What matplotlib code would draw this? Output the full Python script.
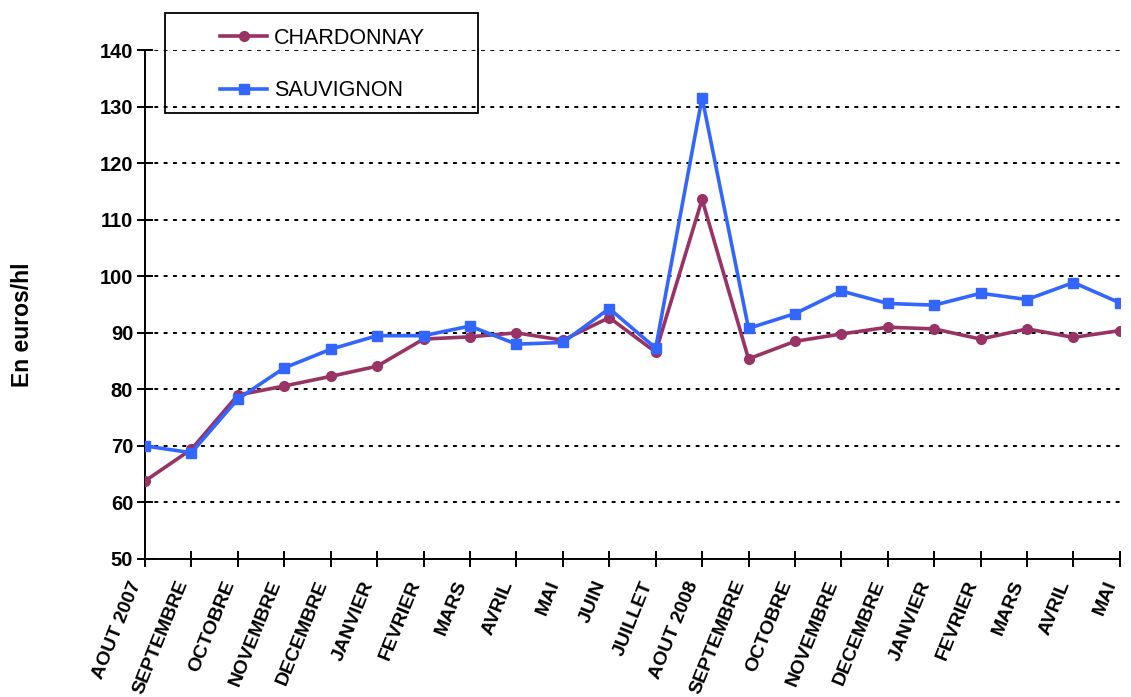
import matplotlib
matplotlib.use("Agg")
from matplotlib import pyplot as plt
from matplotlib.patches import Rectangle
from matplotlib.transforms import ScaledTranslation

plt.rcParams["font.family"] = ["Liberation Sans", "DejaVu Sans"]

months = ["AOUT 2007", "SEPTEMBRE", "OCTOBRE", "NOVEMBRE", "DECEMBRE", "JANVIER",
          "FEVRIER", "MARS", "AVRIL", "MAI", "JUIN", "JUILLET", "AOUT 2008",
          "SEPTEMBRE", "OCTOBRE", "NOVEMBRE", "DECEMBRE", "JANVIER", "FEVRIER",
          "MARS", "AVRIL", "MAI"]

chardonnay = [63.8, 69.4, 79.0, 80.6, 82.3, 84.1, 88.9, 89.3, 90.0, 88.7, 92.7,
              86.6, 113.6, 85.4, 88.5, 89.8, 91.0, 90.7, 88.9, 90.7, 89.2, 90.4]
sauvignon = [70.0, 68.8, 78.3, 83.8, 87.1, 89.5, 89.5, 91.2, 88.0, 88.3, 94.3,
             87.3, 131.6, 90.8, 93.4, 97.4, 95.2, 94.9, 97.0, 95.9, 98.9, 95.3]

x = list(range(len(months)))

fig = plt.figure(figsize=(11.31, 6.97), dpi=100)
ax = fig.add_axes([0.1282, 0.198, 0.8620, 0.730])

for y in range(60, 150, 10):
    ax.axhline(y, color="black", lw=1.4, ls=(0, (2.0, 2.8)), zorder=1)

ax.plot(x, chardonnay, color="#993366", lw=2.6, marker="o", ms=7,
        label="CHARDONNAY", zorder=3)
ax.plot(x, sauvignon, color="#3366FF", lw=2.6, marker="s", ms=7,
        label="SAUVIGNON", zorder=4)

ax.set_xlim(0, len(months) - 1)
ax.set_ylim(50, 140)
ax.set_yticks(range(50, 150, 10))
ax.set_xticks(x)
ax.set_xticklabels(months, rotation=68, ha="right", va="bottom",
                   rotation_mode="anchor", fontweight="bold", fontsize=14)
# nudge the slanted month names a little to the right of their ticks
nudge = ScaledTranslation(4 / 100, 0, fig.dpi_scale_trans)
for lab in ax.get_xticklabels():
    lab.set_transform(lab.get_transform() + nudge)
for lab in ax.get_yticklabels():
    lab.set_fontweight("bold")
    lab.set_fontsize(14.5)

ax.spines["top"].set_visible(False)
ax.spines["right"].set_visible(False)
ax.spines["left"].set_linewidth(1.4)
ax.spines["bottom"].set_linewidth(1.4)
ax.tick_params(axis="both", direction="inout", length=11, width=1.4)
ax.tick_params(axis="x", pad=13)
ax.tick_params(axis="y", pad=3)

ax.set_ylabel("En euros/hl", fontweight="bold", fontsize=16.5)
ax.yaxis.set_label_coords(-0.114, 0.46)

# legend box drawn in figure coordinates, above the plot area
fig.patches.append(Rectangle((0.1459, 0.8379), 0.2767, 0.1434, transform=fig.transFigure,
                             fill=False, edgecolor="black", lw=1.3))
fig.legend(loc="upper left", bbox_to_anchor=(0.1945, 0.960), frameon=False,
           fontsize=15.5, borderpad=0, borderaxespad=0, labelspacing=1.45,
           handlelength=2.2, handletextpad=0.3)

fig.savefig("out.png", dpi=100)
